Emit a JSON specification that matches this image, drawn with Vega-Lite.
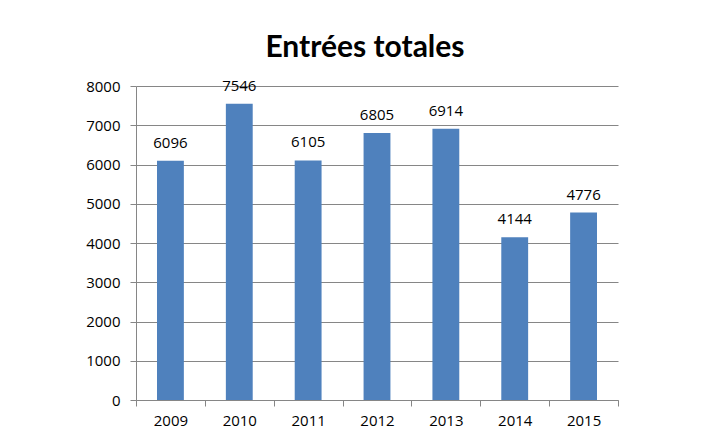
{
  "$schema": "https://vega.github.io/schema/vega-lite/v6.json",
  "width": 482,
  "height": 314,
  "autosize": {"type": "none"},
  "padding": {"left": 136, "top": 86, "right": 96, "bottom": 30},
  "background": "white",
  "title": {
    "text": "Entrées totales",
    "font": "Lato",
    "fontSize": 30,
    "fontWeight": "bold",
    "color": "#000000",
    "anchor": "middle",
    "frame": "group",
    "dx": -12,
    "offset": 16
  },
  "data": {
    "values": [
      {"annee": "2009", "entrees": 6096},
      {"annee": "2010", "entrees": 7546},
      {"annee": "2011", "entrees": 6105},
      {"annee": "2012", "entrees": 6805},
      {"annee": "2013", "entrees": 6914},
      {"annee": "2014", "entrees": 4144},
      {"annee": "2015", "entrees": 4776}
    ]
  },
  "encoding": {
    "x": {
      "field": "annee",
      "type": "nominal",
      "scale": {"paddingInner": 0, "paddingOuter": 0},
      "axis": {
        "title": null,
        "labelAngle": 0,
        "tickBand": "extent",
        "tickSize": 6,
        "labelPadding": 7,
        "domainColor": "#868686",
        "tickColor": "#868686",
        "labelFont": "Open Sans",
        "labelFontSize": 15,
        "labelColor": "#000000",
        "grid": false
      }
    },
    "y": {
      "field": "entrees",
      "type": "quantitative",
      "scale": {"domain": [0, 8000], "nice": false},
      "axis": {
        "title": null,
        "format": "d",
        "values": [0, 1000, 2000, 3000, 4000, 5000, 6000, 7000, 8000],
        "tickSize": 6,
        "labelPadding": 10,
        "domainColor": "#868686",
        "tickColor": "#868686",
        "gridColor": "#868686",
        "grid": true,
        "labelFont": "Open Sans",
        "labelFontSize": 15,
        "labelColor": "#000000"
      }
    }
  },
  "layer": [
    {"mark": {"type": "bar", "color": "#4F81BD", "width": {"band": 0.39}}},
    {
      "mark": {"type": "text", "baseline": "bottom", "dy": -10, "font": "Open Sans", "fontSize": 15, "color": "#000000"},
      "encoding": {"text": {"field": "entrees", "type": "quantitative", "format": "d"}}
    }
  ],
  "config": {"view": {"stroke": null}}
}
